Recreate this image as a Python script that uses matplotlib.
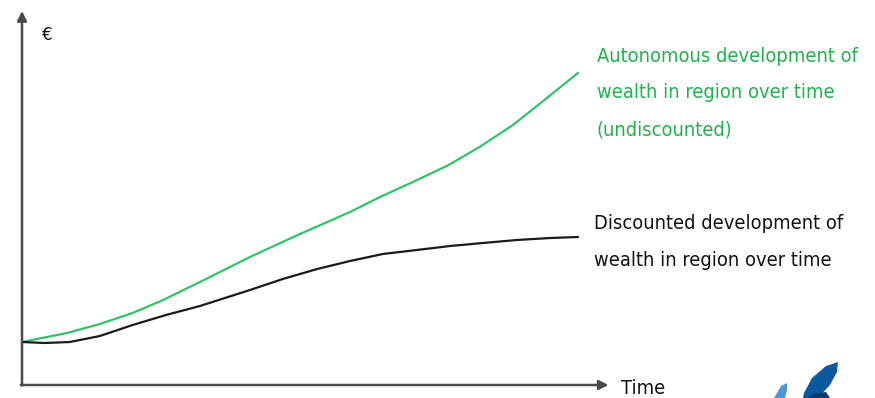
import matplotlib
matplotlib.use("Agg")
import matplotlib.pyplot as plt
from matplotlib.patches import Polygon

# Data (time in arbitrary years, wealth in arbitrary € units)
time_green = [0.0, 0.81, 1.40, 1.99, 2.54, 3.20, 4.10, 5.00, 5.90, 6.44, 7.03, 7.64, 8.23, 8.83, 9.44, 10.0]
wealth_green = [4.3, 5.2, 6.1, 7.2, 8.5, 10.3, 12.8, 15.1, 17.3, 18.8, 20.3, 21.9, 23.8, 26.0, 28.7, 31.2]

time_black = [0.0, 0.41, 0.86, 1.40, 1.99, 2.59, 3.20, 4.10, 4.69, 5.31, 5.90, 6.49, 7.10, 7.70, 8.29, 8.90, 9.50, 10.0]
wealth_black = [4.3, 4.2, 4.3, 4.9, 6.0, 7.0, 7.9, 9.5, 10.6, 11.6, 12.4, 13.1, 13.5, 13.9, 14.2, 14.5, 14.7, 14.8]

label_green = "Autonomous development of\nwealth in region over time\n(undiscounted)"
label_black = "Discounted development of\nwealth in region over time"
x_label = "Time"
y_label = "€"

green = "#33c26a"
text_green = "#22b14c"
axis_col = "#4a4a4a"

fig = plt.figure(figsize=(8.75, 3.98), dpi=100)
ax = fig.add_axes([0, 0, 1, 1])
ax.set_xlim(-22 / 55.6, 853 / 55.6)
ax.set_ylim(-1.3, 38.5)
ax.axis("off")

# axes with arrows
ax.annotate("", xy=(0, 37.4), xytext=(0, -0.05),
            arrowprops=dict(arrowstyle="-|>", color=axis_col, lw=1.8,
                            mutation_scale=14, shrinkA=0, shrinkB=0))
ax.annotate("", xy=(10.55, 0), xytext=(-0.02, 0),
            arrowprops=dict(arrowstyle="-|>", color=axis_col, lw=1.8,
                            mutation_scale=14, shrinkA=0, shrinkB=0))

ax.plot(time_green, wealth_green, color=green, lw=1.6, solid_capstyle="round",
        solid_joinstyle="round")
ax.plot(time_black, wealth_black, color="#1a1a1a", lw=1.6, solid_capstyle="round",
        solid_joinstyle="round")

font = ["DejaVu Sans"]
ax.text(10.34, 29.2, label_green, color=text_green, fontsize=14.4, family=font,
        stretch="condensed", ha="left", va="center", linespacing=2.2)
ax.text(10.28, 14.3, label_black, color="#111111", fontsize=14.4, family=font,
        stretch="condensed", ha="left", va="center", linespacing=2.2)
ax.text(10.78, -0.3, x_label, color="#111111", fontsize=14.4, family=font,
        stretch="condensed", ha="left", va="center")
ax.text(0.35, 35.0, y_label, color="#111111", fontsize=12, family=font,
        ha="left", va="center")

# logo (decorative)
def px(pts):
    return [((x - 22) / 55.6, (385 - y) / 10) for x, y in pts]

ax.add_patch(Polygon(px([(838, 362), (826, 366), (812, 378), (804, 393), (803, 398),
                         (818, 398), (830, 385), (837, 372)]),
                     closed=True, color="#0b5a9e", lw=0))
ax.add_patch(Polygon(px([(787, 383), (781, 386), (774, 398), (785, 398), (787, 390)]),
                     closed=True, color="#4f95dc", lw=0))
ax.add_patch(Polygon(px([(812, 394), (826, 392), (830, 398), (808, 398)]),
                     closed=True, color="#0d3b6e", lw=0))

fig.savefig("out.png", dpi=100)
